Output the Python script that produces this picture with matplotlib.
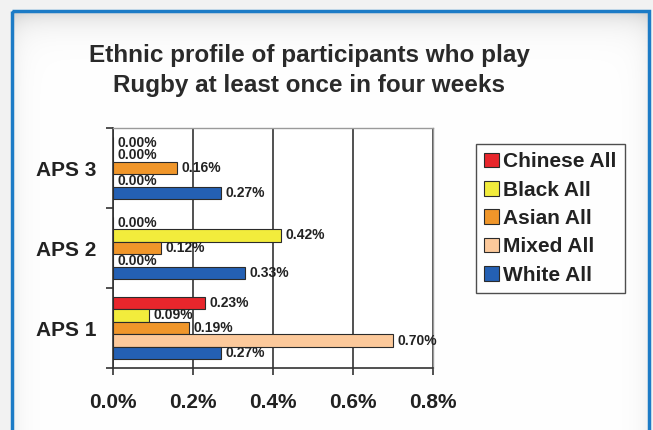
import numpy as np
import matplotlib
matplotlib.use('Agg')
from matplotlib import pyplot as plt
from matplotlib.patches import Rectangle

# data (percent of participants)
categories = ['APS 1', 'APS 2', 'APS 3']
series_names = ['Chinese All', 'Black All', 'Asian All', 'Mixed All', 'White All']
chinese = [0.23, 0.00, 0.00]
black = [0.09, 0.42, 0.00]
asian = [0.19, 0.12, 0.16]
mixed = [0.70, 0.00, 0.00]
white = [0.27, 0.33, 0.27]
xticks = [0.0, 0.2, 0.4, 0.6, 0.8]
xtick_labels = ['0.0%', '0.2%', '0.4%', '0.6%', '0.8%']

colors = ['#e8262c', '#f2ec3c', '#f0962a', '#fcc99b', '#2460b4']

plt.rcParams['font.family'] = ['Liberation Sans', 'DejaVu Sans']

W, H = 653, 430
fig = plt.figure(figsize=(W / 100, H / 100), dpi=100)
fig.patch.set_facecolor('#f2f2f2')

# background panel with blue frame and soft inner shadow
bg = fig.add_axes([0, 0, 1, 1], zorder=-5)
bg.set_xlim(0, W)
bg.set_ylim(H, 0)
bg.axis('off')
xx, yy = np.meshgrid(np.arange(12, 649), np.arange(11, H))
d_top = yy - 11
d_side = np.minimum(xx - 12, 649 - xx)
shade = 1 - 0.15 * np.exp(-d_top / 13.0) - 0.06 * np.exp(-d_side / 10.0)
shade = np.clip(shade, 0, 1)
bg.imshow(np.dstack([shade, shade, shade]), extent=(12, 649, H, 11),
          aspect='auto', interpolation='bilinear')
bg.add_patch(Rectangle((12, 11), 637, H + 20, fill=False,
                       edgecolor='#1c7bc6', linewidth=2.5))

# chart
ax = fig.add_axes([113 / W, 1 - 368 / H, 320 / W, 240 / H])
values = [chinese, black, asian, mixed, white]
y = np.arange(len(categories))
h = 0.157
for i, (name, vals, c) in enumerate(zip(series_names, values, colors)):
    pos = y + (2 - i) * h
    ax.barh(pos, vals, height=h, color=c, edgecolor='#2b2b2b',
            linewidth=0.8, label=name, zorder=3)
    for p, v in zip(pos, vals):
        ax.text(v + 0.012, p, '%.2f%%' % v, va='center', ha='left',
                fontsize=10, fontweight='bold', color='#222222', zorder=4)

ax.set_xlim(0, 0.8)
ax.set_ylim(-0.5, 2.5)
ax.set_xticks(xticks)
ax.set_xticklabels(xtick_labels, fontsize=15, fontweight='bold', color='#222222')
ax.set_yticks(y)
ax.set_yticklabels(categories, fontsize=15, fontweight='bold', color='#222222')
ax.set_yticks([-0.5, 0.5, 1.5, 2.5], minor=True)
ax.tick_params(axis='y', which='major', length=0, pad=12)
ax.tick_params(axis='y', which='minor', length=5, width=1.2, color='#333333', direction='out')
ax.tick_params(axis='x', which='major', length=5, width=1.2, color='#333333',
               direction='out', pad=13)
ax.grid(axis='x', color='#333333', linewidth=1.2, zorder=1)
for s in ['left', 'bottom']:
    ax.spines[s].set_color('#333333')
    ax.spines[s].set_linewidth(1.2)
for s in ['top', 'right']:
    ax.spines[s].set_color('#9a9a9a')
    ax.spines[s].set_linewidth(1.0)
ax.set_facecolor('white')

# title
fig.text(309 / W, 1 - 62 / H, 'Ethnic profile of participants who play',
         ha='center', va='baseline', fontsize=17.5, fontweight='bold', color='#2a2a2a')
fig.text(309 / W, 1 - 92 / H, 'Rugby at least once in four weeks',
         ha='center', va='baseline', fontsize=17.5, fontweight='bold', color='#2a2a2a')

# legend
leg = fig.legend(loc='upper left', bbox_to_anchor=(476 / W, 1 - 144 / H),
                 prop={'size': 15, 'weight': 'bold'}, frameon=True,
                 fancybox=False, edgecolor='#222222', borderpad=0.4,
                 labelspacing=0.45, handlelength=0.7, handleheight=0.7,
                 handletextpad=0.2, borderaxespad=0)
leg.get_frame().set_linewidth(1.0)
for t in leg.get_texts():
    t.set_color('#222222')

fig.savefig('out.png', dpi=100)
